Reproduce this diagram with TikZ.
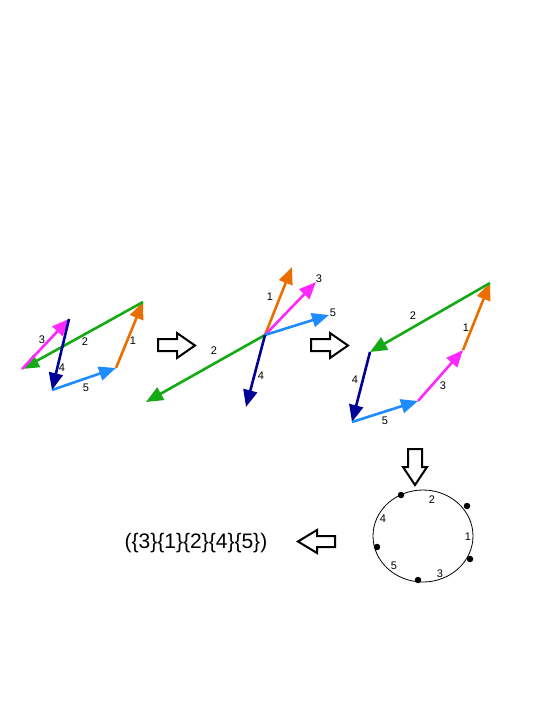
\documentclass[tikz,border=0pt]{standalone}
\usepackage{fontspec}
\setmainfont{Liberation Sans}
\usetikzlibrary{arrows.meta}
\definecolor{vorange}{RGB}{235,110,0}
\definecolor{vgreen}{RGB}{20,170,20}
\definecolor{vmagenta}{RGB}{255,40,255}
\definecolor{vdblue}{RGB}{0,0,150}
\definecolor{vblue}{RGB}{30,140,255}
\tikzset{
  vec/.style={line width=2.6pt, -{Triangle[length=17pt,width=14pt]}},
  lbl/.style={font=\fontsize{11}{11}\selectfont, inner sep=0pt},
  hollow/.style={draw=black, line width=2pt, fill=white, line join=miter},
  dot/.style={circle, fill=black, inner sep=0pt, minimum size=6.5pt},
}
\begin{document}
\begin{tikzpicture}[x=1pt,y=-1pt]
\useasboundingbox (0,0) rectangle (545,705);
% ---------- panel 1 ----------
\coordinate (a1) at (52,390);
\coordinate (a2) at (116,368);
\coordinate (a3) at (143,302);
\coordinate (a4) at (22,369);
\coordinate (a5) at (69,319);
\draw[vec, vblue] (a1) -- (a2);
\draw[vec, vorange] (a2) -- (a3);
\draw[vec, vgreen] (a3) -- (a4);
\draw[vec, vmagenta] (a4) -- (a5);
\draw[vec, vdblue] (a5) -- (a1);
\node[lbl] (p1l3) at (42,340) {3};
\node[lbl] (p1l2) at (85,342) {2};
\node[lbl] (p1l1) at (133,341) {1};
\node[lbl] (p1l4) at (62,368) {4};
\node[lbl] (p1l5) at (86,388) {5};
% ---------- arrow 1 ----------
\draw[hollow] (158,339) -- (177,339) -- (177,333) -- (195,345.5) -- (177,358) -- (177,351) -- (158,351) -- cycle;
% ---------- panel 2 ----------
\coordinate (c) at (265,335);
\coordinate (t1) at (292,267);
\coordinate (t3) at (316,282);
\coordinate (t5) at (329,315);
\coordinate (t2) at (146,402);
\coordinate (t4) at (246,407);
\draw[vec, vorange] (c) -- (t1);
\draw[vec, vmagenta] (c) -- (t3);
\draw[vec, vblue] (c) -- (t5);
\draw[vec, vgreen] (c) -- (t2);
\draw[vec, vdblue] (c) -- (t4);
\node[lbl] (p2l1) at (270,297) {1};
\node[lbl] (p2l3) at (319,279) {3};
\node[lbl] (p2l5) at (333,313) {5};
\node[lbl] (p2l2) at (214,351) {2};
\node[lbl] (p2l4) at (261,376) {4};
% ---------- arrow 2 ----------
\draw[hollow] (311,339) -- (330,339) -- (330,333) -- (348,345.5) -- (330,358) -- (330,351) -- (311,351) -- cycle;
% ---------- panel 3 ----------
\coordinate (b1) at (370,352);
\coordinate (b2) at (352,422);
\coordinate (b3) at (418,401);
\coordinate (b4) at (463,350);
\coordinate (b5) at (490,283);
\draw[vec, vdblue] (b1) -- (b2);
\draw[vec, vblue] (b2) -- (b3);
\draw[vec, vmagenta] (b3) -- (b4);
\draw[vec, vorange] (b4) -- (b5);
\draw[vec, vgreen] (b5) -- (b1);
\node[lbl] (p3l1) at (466,328) {1};
\node[lbl] (p3l2) at (413,316) {2};
\node[lbl] (p3l4) at (355,380) {4};
\node[lbl] (p3l5) at (385,421) {5};
\node[lbl] (p3l3) at (443,386) {3};
% ---------- arrow 3 (down) ----------
\draw[hollow] (408,449) -- (422,449) -- (422,467) -- (427,467) -- (415,485) -- (403,467) -- (408,467) -- cycle;
% ---------- circle ----------
\draw[line width=0.8pt] (423,536) ellipse [x radius=50, y radius=46];
\node[dot] (d1) at (401,495) {};
\node[dot] (d2) at (467,506) {};
\node[dot] (d3) at (470,559) {};
\node[dot] (d4) at (418,580) {};
\node[dot] (d5) at (377,547) {};
\node[lbl] (e2) at (432,500) {2};
\node[lbl] (e1) at (468,537) {1};
\node[lbl] (e3) at (440,574) {3};
\node[lbl] (e5) at (394,566) {5};
\node[lbl] (e4) at (383,519) {4};
% ---------- arrow 4 (left) ----------
\draw[hollow] (335,536) -- (317,536) -- (317,530) -- (298,541.5) -- (317,553) -- (317,547) -- (335,547) -- cycle;
% ---------- result ----------
\node[font=\fontsize{21}{21}\selectfont, inner sep=0pt] (res) at (196,543) {(\{3\}\{1\}\{2\}\{4\}\{5\})};
\end{tikzpicture}
\end{document}
